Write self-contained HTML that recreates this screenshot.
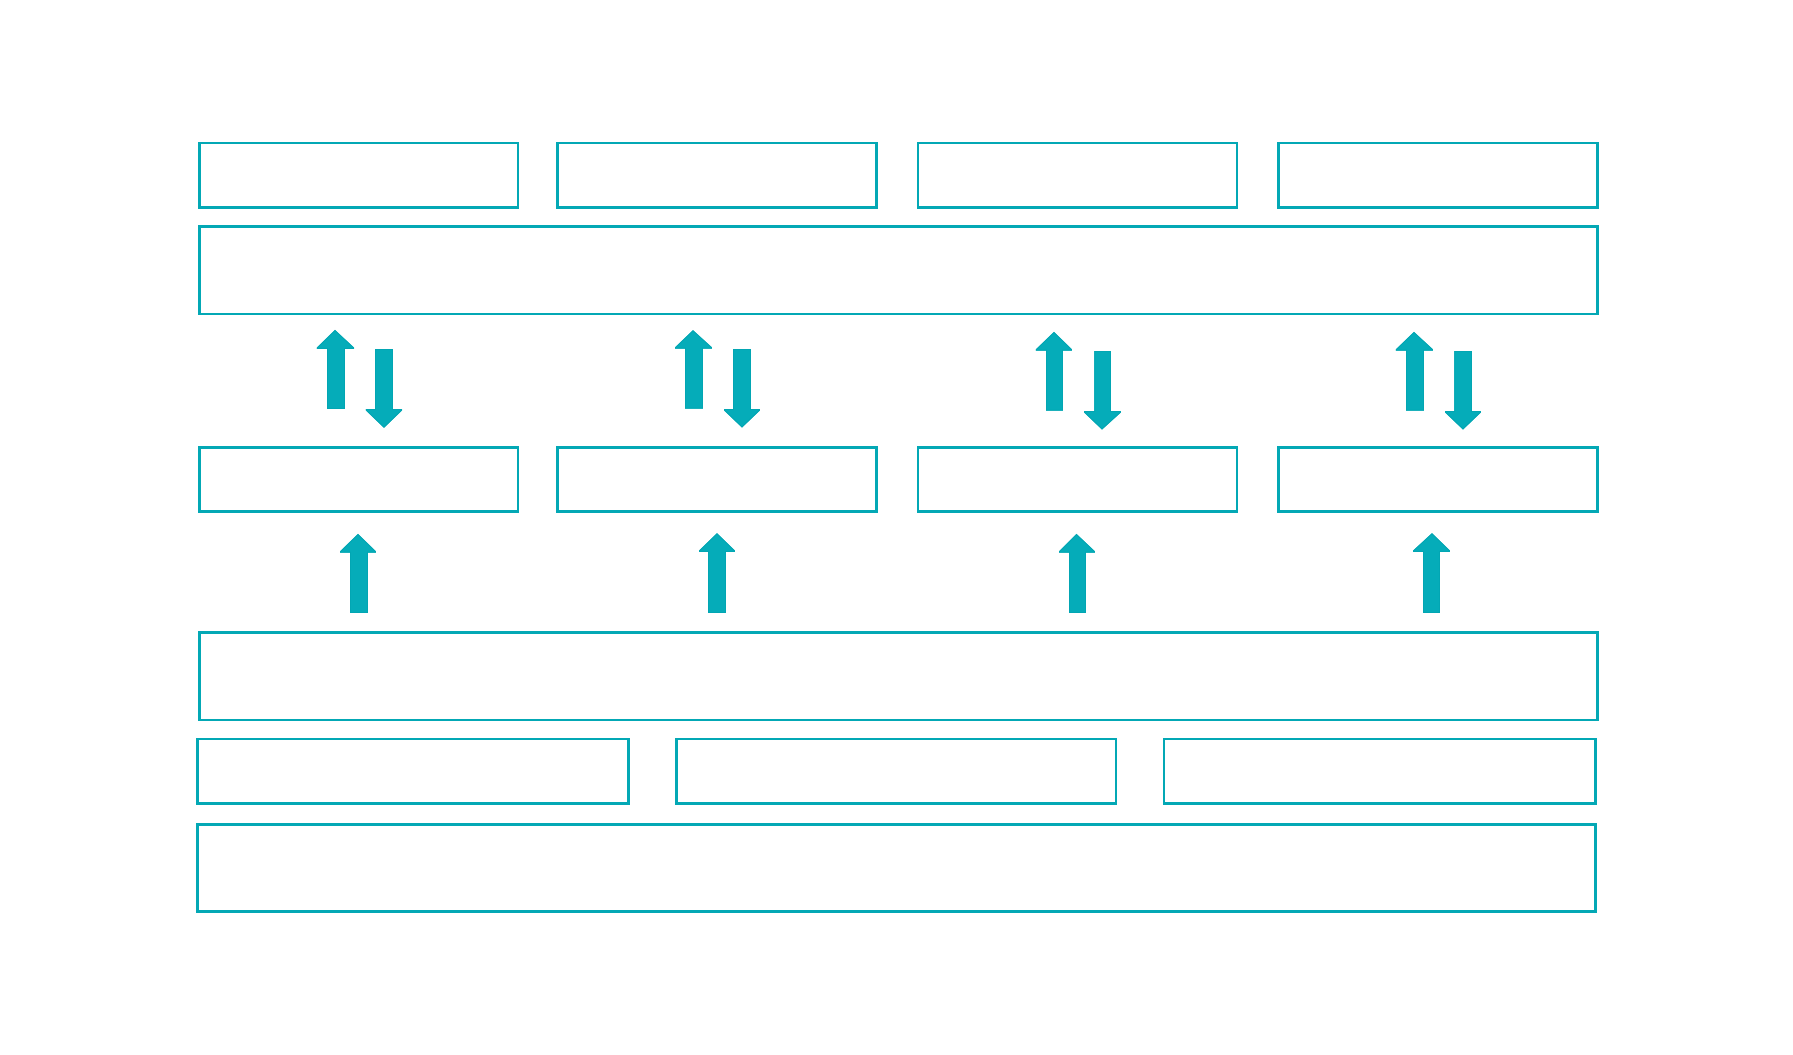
<!DOCTYPE html>
<html><head><meta charset="utf-8"><style>
html,body{margin:0;padding:0;background:#fff;width:1793px;height:1055px;overflow:hidden}
svg{display:block}
</style></head><body>
<svg width="1793" height="1055" viewBox="0 0 1793 1055"><defs>
<clipPath id="c0"><path d="M335 329.7L354.1 347.5V349H345V409H327V349H316.8V347.5Z"/></clipPath>
<clipPath id="c1"><path d="M384 428L402.1 410.5V409H393V349H375V409H365.8V410.5Z"/></clipPath>
<clipPath id="c2"><path d="M693 330L712 347.2V348.7H703V408.7H685V348.7H675V347.2Z"/></clipPath>
<clipPath id="c3"><path d="M742 427.8L760 410.5V409H751V349H733V409H724V410.5Z"/></clipPath>
<clipPath id="c4"><path d="M1054 331.7L1072 349.2V350.7H1063V410.8H1046V350.7H1035.8V349.2Z"/></clipPath>
<clipPath id="c5"><path d="M1102 429.8L1121 412.5V411H1111V351H1094.2V411H1084V412.5Z"/></clipPath>
<clipPath id="c6"><path d="M1414 331.7L1433 349.2V350.7H1424V410.8H1406V350.7H1395.8V349.2Z"/></clipPath>
<clipPath id="c7"><path d="M1463 429.8L1481 412.5V411H1472V351H1454.2V411H1445V412.5Z"/></clipPath>
<clipPath id="c8"><path d="M358 533.8L376 551.2V552.7H368V613H350V552.7H340V551.2Z"/></clipPath>
<clipPath id="c9"><path d="M717 533L735 550.5V552H726V613H708V552H699V550.5Z"/></clipPath>
<clipPath id="c10"><path d="M1076.5 533.8L1095 551.2V552.7H1086V613H1069V552.7H1059V551.2Z"/></clipPath>
<clipPath id="c11"><path d="M1432 533L1450 550.5V552H1440V613H1423V552H1413V550.5Z"/></clipPath>
</defs>
<path fill="#03a8b5" fill-rule="evenodd" d="M198 142H519V209H198Z M201 144V206H517V144Z"/>
<path fill="#03a8b5" fill-rule="evenodd" d="M198 446H519V513H198Z M201 449V510H517V449Z"/>
<path fill="#03a8b5" fill-rule="evenodd" d="M556 142H878V209H556Z M559 144V206H875V144Z"/>
<path fill="#03a8b5" fill-rule="evenodd" d="M556 446H878V513H556Z M559 449V510H875V449Z"/>
<path fill="#03a8b5" fill-rule="evenodd" d="M917 142H1238V209H917Z M919 144V206H1236V144Z"/>
<path fill="#03a8b5" fill-rule="evenodd" d="M917 446H1238V513H917Z M919 449V510H1236V449Z"/>
<path fill="#03a8b5" fill-rule="evenodd" d="M1277 142H1599V209H1277Z M1280 144V206H1596V144Z"/>
<path fill="#03a8b5" fill-rule="evenodd" d="M1277 446H1599V513H1277Z M1280 449V510H1596V449Z"/>
<path fill="#03a8b5" fill-rule="evenodd" d="M198 225H1599V315H198Z M201 228V313H1596V228Z"/>
<path fill="#03a8b5" fill-rule="evenodd" d="M198 631H1599V721H198Z M201 634V719H1596V634Z"/>
<path fill="#03a8b5" fill-rule="evenodd" d="M196 738H630V805H196Z M199 740V802H627V740Z"/>
<path fill="#03a8b5" fill-rule="evenodd" d="M675 738H1117V805H675Z M678 740V802H1115V740Z"/>
<path fill="#03a8b5" fill-rule="evenodd" d="M1163 738H1597V805H1163Z M1165 740V802H1594V740Z"/>
<path fill="#03a8b5" fill-rule="evenodd" d="M196 823H1597V913H196Z M199 826V910H1594V826Z"/>
<path d="M335 329.7L354.1 347.5V349H345V409H327V349H316.8V347.5Z" fill="#05acb9" stroke="#02a6b3" stroke-width="2" clip-path="url(#c0)"/>
<path d="M384 428L402.1 410.5V409H393V349H375V409H365.8V410.5Z" fill="#05acb9" stroke="#02a6b3" stroke-width="2" clip-path="url(#c1)"/>
<path d="M693 330L712 347.2V348.7H703V408.7H685V348.7H675V347.2Z" fill="#05acb9" stroke="#02a6b3" stroke-width="2" clip-path="url(#c2)"/>
<path d="M742 427.8L760 410.5V409H751V349H733V409H724V410.5Z" fill="#05acb9" stroke="#02a6b3" stroke-width="2" clip-path="url(#c3)"/>
<path d="M1054 331.7L1072 349.2V350.7H1063V410.8H1046V350.7H1035.8V349.2Z" fill="#05acb9" stroke="#02a6b3" stroke-width="2" clip-path="url(#c4)"/>
<path d="M1102 429.8L1121 412.5V411H1111V351H1094.2V411H1084V412.5Z" fill="#05acb9" stroke="#02a6b3" stroke-width="2" clip-path="url(#c5)"/>
<path d="M1414 331.7L1433 349.2V350.7H1424V410.8H1406V350.7H1395.8V349.2Z" fill="#05acb9" stroke="#02a6b3" stroke-width="2" clip-path="url(#c6)"/>
<path d="M1463 429.8L1481 412.5V411H1472V351H1454.2V411H1445V412.5Z" fill="#05acb9" stroke="#02a6b3" stroke-width="2" clip-path="url(#c7)"/>
<path d="M358 533.8L376 551.2V552.7H368V613H350V552.7H340V551.2Z" fill="#05acb9" stroke="#02a6b3" stroke-width="2" clip-path="url(#c8)"/>
<path d="M717 533L735 550.5V552H726V613H708V552H699V550.5Z" fill="#05acb9" stroke="#02a6b3" stroke-width="2" clip-path="url(#c9)"/>
<path d="M1076.5 533.8L1095 551.2V552.7H1086V613H1069V552.7H1059V551.2Z" fill="#05acb9" stroke="#02a6b3" stroke-width="2" clip-path="url(#c10)"/>
<path d="M1432 533L1450 550.5V552H1440V613H1423V552H1413V550.5Z" fill="#05acb9" stroke="#02a6b3" stroke-width="2" clip-path="url(#c11)"/>
</svg>
</body></html>
